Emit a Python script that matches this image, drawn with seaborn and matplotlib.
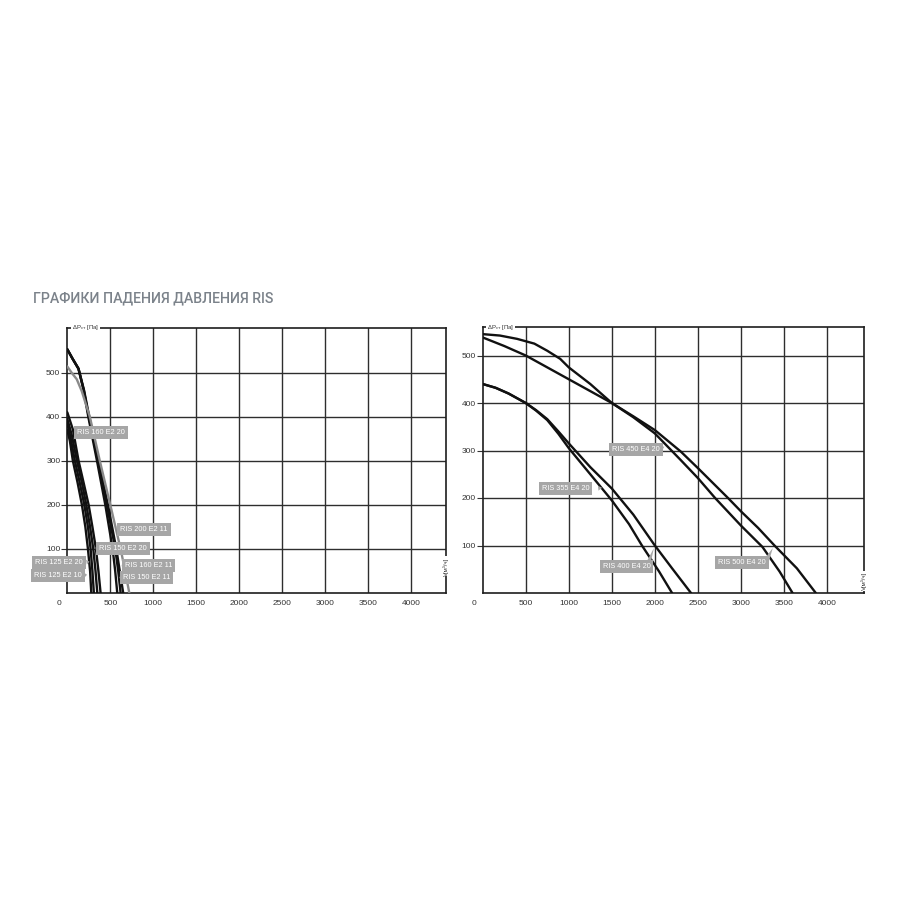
import matplotlib
matplotlib.use("Agg")
import matplotlib.pyplot as plt
import seaborn as sns
import pandas as pd

# ---------------- data ----------------
# Left chart: pressure drop curves, V [m3/h] vs dP [Pa]
left_models = ["RIS 125 E2 10", "RIS 125 E2 20", "RIS 150 E2 20", "RIS 160 E2 20",
               "RIS 150 E2 11", "RIS 160 E2 11", "RIS 200 E2 11_b", "RIS 200 E2 11"]
left_v = [
    [0, 30, 65, 120, 170, 210, 240, 265, 279],
    [0, 40, 88, 145, 198, 240, 271, 292, 309],
    [0, 50, 112, 170, 221, 265, 302, 328, 349],
    [0, 65, 131, 190, 248, 292, 333, 362, 387],
    [0, 60, 130, 190, 244, 345, 442, 527, 557, 581],
    [0, 60, 130, 192, 250, 355, 460, 558, 592, 620],
    [0, 60, 130, 195, 255, 365, 472, 570, 610, 650],
    [0, 50, 110, 168, 262, 378, 500, 620, 672, 721],
]
left_p = [
    [370, 345, 300, 250, 200, 150, 100, 50, 0],
    [385, 350, 300, 250, 200, 150, 100, 50, 0],
    [395, 360, 300, 250, 200, 150, 100, 50, 0],
    [410, 371, 300, 250, 200, 150, 100, 50, 0],
    [553, 532, 509, 460, 400, 300, 200, 100, 50, 0],
    [553, 532, 509, 460, 400, 300, 200, 100, 50, 0],
    [553, 532, 509, 460, 400, 300, 200, 100, 50, 0],
    [514, 500, 485, 458, 400, 300, 200, 100, 50, 0],
]
left_colors = ["#111111"] * 7 + ["#8a8a8a"]

# Right chart
right_models = ["RIS 355 E4 20", "RIS 400 E4 20", "RIS 450 E4 20", "RIS 500 E4 20"]
right_v = [
    [0, 150, 300, 500, 620, 750, 880, 1000, 1250, 1500, 1700, 1850, 2050, 2200],
    [0, 150, 300, 500, 620, 750, 880, 1000, 1250, 1500, 1750, 2000, 2200, 2420],
    [0, 200, 400, 600, 750, 900, 1000, 1250, 1500, 1750, 2000, 2300, 2500, 2700,
     3000, 3250, 3450, 3600],
    [0, 250, 500, 750, 1000, 1250, 1500, 1750, 2000, 2300, 2500, 2850, 3000, 3200,
     3390, 3650, 3870],
]
right_p = [
    [440, 432, 420, 400, 384, 364, 335, 305, 250, 195, 145, 100, 45, 0],
    [440, 432, 420, 400, 385, 366, 340, 315, 265, 220, 165, 100, 52, 0],
    [545, 542, 535, 525, 510, 493, 475, 440, 400, 370, 336, 280, 242, 200,
     142, 97, 45, 0],
    [538, 520, 500, 475, 450, 425, 400, 372, 343, 298, 263, 200, 172, 137,
     100, 52, 0],
]

x_ticks = [500, 1000, 1500, 2000, 2500, 3000, 3500, 4000]
y_ticks = [100, 200, 300, 400, 500]

# label boxes: text, left x, centre y, pointer target (or None)
left_labels = [
    ("RIS 160 E2 20", 116, 364, None),
    ("RIS 200 E2 11", 616, 145, (568, 150)),
    ("RIS 150 E2 20", 370, 101, (330, 104)),
    ("RIS 125 E2 20", -372, 69, (290, 72)),
    ("RIS 160 E2 11", 673, 62, (600, 64)),
    ("RIS 125 E2 10", -384, 40, (262, 42)),
    ("RIS 150 E2 11", 650, 35, (575, 36)),
]
right_labels = [
    ("RIS 450 E4 20", 1503, 303, (2140, 310)),
    ("RIS 355 E4 20", 686, 220, (1420, 222)),
    ("RIS 400 E4 20", 1392, 55, (2000, 100)),
    ("RIS 500 E4 20", 2735, 65, (3385, 100)),
]


def to_df(models, vs, ps):
    rows = []
    for m, v, p in zip(models, vs, ps):
        for a, b in zip(v, p):
            rows.append((m, a, b))
    return pd.DataFrame(rows, columns=["model", "V", "P"])


sns.set_style("white")
plt.rcParams["font.family"] = ["Liberation Sans", "DejaVu Sans"]

fig = plt.figure(figsize=(9, 9), dpi=100)
fig.patch.set_facecolor("white")

ax1 = fig.add_axes([67.3 / 900, 1 - 593 / 900, 378.4 / 900, 265.3 / 900])
ax2 = fig.add_axes([482.7 / 900, 1 - 593 / 900, 381.3 / 900, 266 / 900])

GRID = "#2e2e2e"
LBL = "#a6a6a6"


def style(ax, xmax, ymax, vlab_y):
    ax.set_xlim(0, xmax)
    ax.set_ylim(0, ymax)
    ax.set_xticks(x_ticks)
    ax.set_yticks(y_ticks)
    ax.set_xticklabels([str(t) for t in x_ticks])
    ax.set_yticklabels([str(t) for t in y_ticks])
    ax.grid(True, color=GRID, lw=1.0)
    ax.set_axisbelow(True)
    for s in ax.spines.values():
        s.set_visible(True)
        s.set_color("#1e1e1e")
        s.set_linewidth(1.2)
    ax.tick_params(axis="x", length=0, pad=5, labelsize=6, colors="#333333")
    ax.tick_params(axis="y", length=4, width=0.8, pad=1, labelsize=6,
                   colors="#333333", direction="out", left=True)
    ax.set_xlabel("")
    ax.set_ylabel("")
    ax.annotate("0", xy=(0, 0), xytext=(-6, -5), textcoords="offset points",
                ha="center", va="top", fontsize=6, color="#333333",
                annotation_clip=False)
    ax.text(0.012, 1.0, "ΔP$_{\\mathrm{ст}}$ [Па]", transform=ax.transAxes,
            ha="left", va="center", fontsize=4.3, color="#333333", zorder=10,
            bbox=dict(boxstyle="square,pad=0.15", fc="white", ec="none"),
            clip_on=False)
    ax.text(1.0, vlab_y, "V[м³/ч]", transform=ax.transAxes, rotation=90,
            ha="center", va="center", fontsize=4.3, color="#333333", zorder=10,
            bbox=dict(boxstyle="square,pad=0.15", fc="white", ec="none"),
            clip_on=False)


def add_labels(ax, labels):
    for txt, x, y, tgt in labels:
        ax.text(x, y, txt, ha="left", va="center", fontsize=5.3, color="white",
                zorder=8, clip_on=False,
                bbox=dict(boxstyle="square,pad=0.4", fc=LBL, ec="none"))
        if tgt is not None:
            start = x if tgt[0] < x else tgt[0] - (tgt[0] - x) * 0.15
            ax.annotate("", xy=tgt, xytext=(start, y),
                        arrowprops=dict(arrowstyle="wedge,tail_width=0.35,shrink_factor=0.5",
                                        fc=LBL, ec="none", lw=0),
                        zorder=7, annotation_clip=False)


dfl = to_df(left_models, left_v, left_p)
sns.lineplot(data=dfl, x="V", y="P", hue="model", hue_order=left_models,
             palette=dict(zip(left_models, left_colors)), estimator=None,
             sort=False, legend=False, linewidth=1.7, ax=ax1, zorder=5)
dfr = to_df(right_models, right_v, right_p)
sns.lineplot(data=dfr, x="V", y="P", hue="model", hue_order=right_models,
             palette=dict(zip(right_models, ["#111111"] * 4)), estimator=None,
             sort=False, legend=False, linewidth=1.7, ax=ax2, zorder=5)

style(ax1, 4400, 602, 0.10)
style(ax2, 4430, 560, 0.045)
add_labels(ax1, left_labels)
add_labels(ax2, right_labels)

fig.text(33 / 900, 1 - 298 / 900, "ГРАФИКИ ПАДЕНИЯ ДАВЛЕНИЯ RIS",
         family=["Roboto", "DejaVu Sans"], fontweight="medium",
         fontsize=10.2, color="#7b828a", ha="left", va="center")

fig.savefig("out.png", dpi=100, facecolor="white")
